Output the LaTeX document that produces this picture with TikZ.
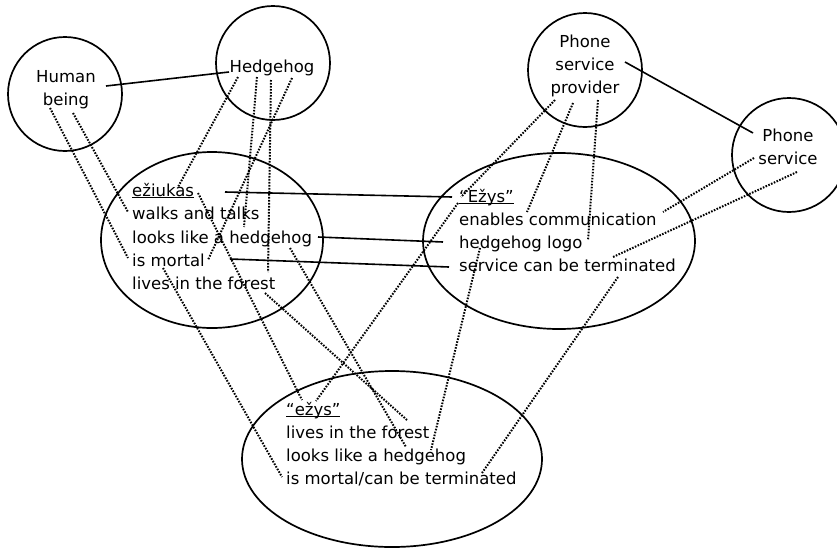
\documentclass[tikz,border=0pt]{standalone}
\usepackage{fontspec}
\setmainfont{DejaVu Sans}
\tikzset{
  setoutline/.style={draw=black, line width=1.7pt}
}
\newcommand{\ulword}[1]{%
  \setbox0\hbox{#1}\rlap{\rule[-2.2pt]{\wd0}{1.5pt}}\box0%
}

\begin{document}
\begin{tikzpicture}[x=1pt,y=-1pt]

  % --- styles ---
  \tikzset{
    words/.style={font=\fontsize{16.5}{23}\selectfont, inner sep=0pt, anchor=base west},
    incircle/.style={font=\fontsize{16.5}{23}\selectfont, inner sep=0pt, align=center},
    solidlink/.style={draw=black, line width=1.6pt},
    dotlink/.style={draw=black, line width=2pt, dash pattern=on 1.6pt off 1.4pt},
  }

  \useasboundingbox (0,0) rectangle (837,549);

  % =========================
  %  CIRCLES AND ELLIPSES
  % =========================

  \draw[setoutline] (65,94) circle (57pt);
  \draw[setoutline] (273,63) circle (57pt);
  \draw[setoutline] (585,70) circle (57pt);
  \draw[setoutline] (789,155) circle (57pt);

  \draw[setoutline] (212,240) ellipse (111pt and 88pt);
  \draw[setoutline] (559,241) ellipse (136pt and 88pt);
  \draw[setoutline] (392,459) ellipse (150pt and 88pt);

  % --- texts ---
  \node[incircle] (human) at (66,90) {Human\\being};
  \node[incircle, anchor=base] (hedge) at (272,72) {Hedgehog};
  \node[incircle] (prov) at (585,66) {Phone\\service\\provider};
  \node[incircle] (serv) at (788,147) {Phone\\service};

  \node[words] (ezi)  at (132,196) {\ulword{ežiukas}};
  \node[words] (walk) at (132,219) {walks and talks};
  \node[words] (look) at (132,243) {looks like a hedgehog};
  \node[words] (mort) at (132,266) {is mortal};
  \node[words] (live) at (132,289) {lives in the forest};

  \node[words] (ezys) at (459,202) {\ulword{“Ežys”}};
  \node[words] (comm) at (459,225) {enables communication};
  \node[words] (logo) at (459,248) {hedgehog logo};
  \node[words] (term) at (459,271) {service can be terminated};

  \node[words] (bezys) at (286,415) {\ulword{“ežys”}};
  \node[words] (blive) at (286,438) {lives in the forest};
  \node[words] (blook) at (286,461) {looks like a hedgehog};
  \node[words] (bmort) at (286,484) {is mortal/can be terminated};

  % =========================
  %  SOLID LINKS
  % =========================

  \coordinate (human-e) at (106,86);   \coordinate (hedge-w) at (229,72);
  \coordinate (prov-e) at (625,62);    \coordinate (serv-w) at (753,133);
  \coordinate (ezi-e) at (225,192);    \coordinate (ezys-w) at (452,197);
  \coordinate (look-e) at (318,237);   \coordinate (logo-w) at (443,242);
  \coordinate (mort-e) at (230,259);   \coordinate (term-w) at (449,267);

  \draw[solidlink] (human-e) -- (hedge-w);
  \draw[solidlink] (prov-e) -- (serv-w);
  \draw[solidlink] (ezi-e) -- (ezys-w);
  \draw[solidlink] (look-e) -- (logo-w);
  \draw[solidlink] (mort-e) -- (term-w);

  % =========================
  %  DOTTED LINKS
  % =========================

  \coordinate (human-a) at (50,108);   \coordinate (mort-a) at (128,258);
  \coordinate (human-b) at (73,113);   \coordinate (walk-a) at (128,212);
  \coordinate (hedge-a) at (238,77);   \coordinate (ezi-a) at (178,187);
  \coordinate (hedge-b) at (257,77);   \coordinate (look-a) at (244,227);
  \coordinate (hedge-c) at (271,80);   \coordinate (live-a) at (268,272);
  \coordinate (hedge-d) at (292,78);   \coordinate (mort-b) at (208,260);

  \coordinate (ezi-b) at (198,193);    \coordinate (bezys-a) at (302,400);
  \coordinate (mort-c) at (163,268);   \coordinate (bmort-a) at (282,477);
  \coordinate (live-b) at (265,293);   \coordinate (blive-a) at (407,420);
  \coordinate (look-b) at (290,248);   \coordinate (blook-a) at (406,447);

  \coordinate (prov-a) at (555,100);   \coordinate (ezys-a) at (461,197);
  \coordinate (ezys-b) at (458,203);   \coordinate (bezys-b) at (316,401);
  \coordinate (prov-b) at (573,103);   \coordinate (comm-a) at (527,212);
  \coordinate (prov-c) at (598,100);   \coordinate (logo-a) at (588,240);
  \coordinate (serv-a) at (754,158);   \coordinate (comm-b) at (663,212);
  \coordinate (serv-b) at (797,172);   \coordinate (term-a) at (613,257);

  \coordinate (logo-b) at (480,248);   \coordinate (blook-b) at (431,450);
  \coordinate (term-b) at (618,277);   \coordinate (bmort-b) at (482,473);

  \draw[dotlink] (human-a) -- (mort-a);
  \draw[dotlink] (human-b) -- (walk-a);
  \draw[dotlink] (hedge-a) -- (ezi-a);
  \draw[dotlink] (hedge-b) -- (look-a);
  \draw[dotlink] (hedge-c) -- (live-a);
  \draw[dotlink] (hedge-d) -- (mort-b);

  \draw[dotlink] (ezi-b) -- (bezys-a);
  \draw[dotlink] (mort-c) -- (bmort-a);
  \draw[dotlink] (live-b) -- (blive-a);
  \draw[dotlink] (look-b) -- (blook-a);

  \draw[dotlink] (prov-a) -- (ezys-a);
  \draw[dotlink] (ezys-b) -- (bezys-b);
  \draw[dotlink] (prov-b) -- (comm-a);
  \draw[dotlink] (prov-c) -- (logo-a);
  \draw[dotlink] (serv-a) -- (comm-b);
  \draw[dotlink] (serv-b) -- (term-a);

  \draw[dotlink] (logo-b) -- (blook-b);
  \draw[dotlink] (term-b) -- (bmort-b);

\end{tikzpicture}
\end{document}
